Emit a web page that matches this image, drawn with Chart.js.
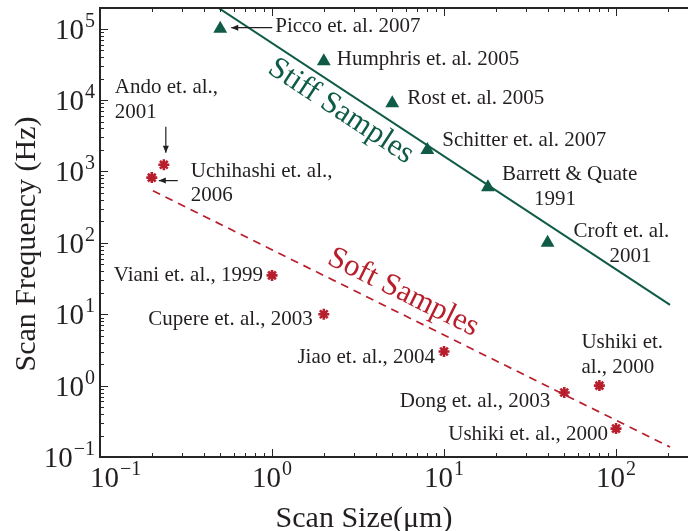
<!DOCTYPE html>
<html lang="en">
<head>
<meta charset="UTF-8">
<title>Scan Frequency vs Scan Size</title>
<script src="https://cdn.jsdelivr.net/npm/chart.js"></script>
<style>
  body { margin: 0; background: #fff; }
  #chart { display: block; }
</style>
</head>
<body>
<canvas id="chart" width="688" height="531"></canvas>
<script>
// stiff-sample instruments (filled triangles)
const stiffNames = ['Picco et. al. 2007', 'Humphris et. al. 2005', 'Rost et. al. 2005', 'Schitter et. al. 2007', 'Barrett & Quate\n1991', 'Croft et. al.\n2001'];
const stiffSize = [0.5, 2, 5, 8, 18, 40];
const stiffFreq = [1e5, 3.5e4, 9e3, 2e3, 600, 100];

// soft-sample instruments (asterisks)
const softNames = ['Ando et. al.,\n2001', 'Uchihashi et. al.,\n2006', 'Viani et. al., 1999', 'Cupere et. al., 2003', 'Jiao et. al., 2004', 'Dong et. al., 2003', 'Ushiki et.\nal., 2000', 'Ushiki et. al., 2000'];
const softSize = [0.235, 0.2, 1, 2, 10, 50, 80, 100];
const softFreq = [1240, 820, 35, 10, 3, 0.8, 1, 0.25];

// trend lines
const stiffTrendSize = [0.486, 206];
const stiffTrendFreq = [1.97e5, 13.5];
const softTrendSize = [0.203, 206];
const softTrendFreq = [536, 0.138];

// decade tick exponents
const xDecades = [-1, 0, 1, 2];
const yDecades = [-1, 0, 1, 2, 3, 4, 5];

const GREEN = '#0f5b47';
const RED = '#b81f2c';
const INK = '#231f20';
const SERIF = '"Liberation Serif", "Times New Roman", serif';

// where each name goes, in pixels from its marker: one [dx, dy] per text line
const stiffNotes = [
  { lines: [[55, -2]], arrow: [52, -1, 11, -1] },
  { lines: [[13, -2]] },
  { lines: [[15, -5]] },
  { lines: [[15, -9]] },
  { lines: [[14, -13], [46, 12]] },
  { lines: [[26, -11], [62, 14]] }
];
const softNotes = [
  { lines: [[-49, -77], [-49, -52]], arrow: [2, -38, 2, -12] },
  { lines: [[39, -6], [39, 18]], arrow: [26, 3, 7, 3] },
  { lines: [[-9, 0]], right: true },
  { lines: [[-11, 5]], right: true },
  { lines: [[-9, 6]], right: true },
  { lines: [[-14, 9]], right: true },
  { lines: [[-18, -43], [-18, -18]] },
  { lines: [[-8, 6]], right: true }
];

const toXY = (xs, ys) => xs.map((x, i) => ({ x: x, y: ys[i] }));

function drawArrow(ctx, x1, y1, x2, y2) {
  ctx.beginPath();
  ctx.moveTo(x1, y1);
  ctx.lineTo(x2, y2);
  ctx.stroke();
  const a = Math.atan2(y2 - y1, x2 - x1);
  ctx.beginPath();
  ctx.moveTo(x2, y2);
  ctx.lineTo(x2 - 7 * Math.cos(a) + 3 * Math.sin(a), y2 - 7 * Math.sin(a) - 3 * Math.cos(a));
  ctx.lineTo(x2 - 7 * Math.cos(a) - 3 * Math.sin(a), y2 - 7 * Math.sin(a) + 3 * Math.cos(a));
  ctx.closePath();
  ctx.fill();
}

// "10" with a raised exponent, x is the left edge
function drawPower(ctx, exp, x, baseY) {
  const e = exp < 0 ? '\u2212' + Math.abs(exp) : String(exp);
  ctx.textAlign = 'left';
  ctx.textBaseline = 'alphabetic';
  ctx.font = '29px ' + SERIF;
  ctx.fillText('10', x, baseY);
  const w = ctx.measureText('10').width;
  ctx.font = '20px ' + SERIF;
  ctx.fillText(e, x + w + 1, baseY - 12);
}
function powerWidth(ctx, exp) {
  const e = exp < 0 ? '\u2212' + Math.abs(exp) : String(exp);
  ctx.font = '29px ' + SERIF;
  const w = ctx.measureText('10').width;
  ctx.font = '20px ' + SERIF;
  return w + 1 + ctx.measureText(e).width;
}

function drawNotes(ctx, xs, ys, names, notes, sx, sy) {
  ctx.font = '21px ' + SERIF;
  ctx.fillStyle = INK;
  ctx.strokeStyle = INK;
  ctx.lineWidth = 1.2;
  ctx.textBaseline = 'middle';
  names.forEach((name, i) => {
    const px = sx.getPixelForValue(xs[i]);
    const py = sy.getPixelForValue(ys[i]);
    const note = notes[i];
    ctx.textAlign = note.right ? 'right' : 'left';
    name.split('\n').forEach((line, k) => {
      const off = note.lines[k];
      ctx.fillText(line, px + off[0], py + off[1]);
    });
    if (note.arrow) {
      const a = note.arrow;
      drawArrow(ctx, px + a[0], py + a[1], px + a[2], py + a[3]);
    }
  });
}

// caption laid along a trend line, t = fraction along it, shift = offset across it
function drawTrendLabel(ctx, text, color, xs, ys, t, shift, sx, sy) {
  const x1 = sx.getPixelForValue(xs[0]), y1 = sy.getPixelForValue(ys[0]);
  const x2 = sx.getPixelForValue(xs[1]), y2 = sy.getPixelForValue(ys[1]);
  const ang = Math.atan2(y2 - y1, x2 - x1);
  const cx = x1 + (x2 - x1) * t, cy = y1 + (y2 - y1) * t;
  ctx.save();
  ctx.translate(cx - Math.sin(ang) * shift, cy + Math.cos(ang) * shift);
  ctx.rotate(ang);
  ctx.font = '31px ' + SERIF;
  ctx.fillStyle = color;
  ctx.textAlign = 'center';
  ctx.textBaseline = 'middle';
  ctx.fillText(text, 0, 0);
  ctx.restore();
}

const frame = {
  id: 'frame',
  afterDatasetsDraw(chart) {
    const ctx = chart.ctx;
    const area = chart.chartArea;
    const sx = chart.scales.x, sy = chart.scales.y;
    ctx.save();

    // axis box (left, bottom, top)
    ctx.strokeStyle = '#262626';
    ctx.lineWidth = 2;
    ctx.beginPath();
    ctx.moveTo(area.right, area.top);
    ctx.lineTo(area.left, area.top);
    ctx.lineTo(area.left, area.bottom);
    ctx.lineTo(area.right, area.bottom);
    ctx.stroke();

    // inward ticks, decades long and the 2..9 multiples short
    ctx.lineWidth = 1;
    ctx.beginPath();
    xDecades.forEach(d => {
      for (let m = 1; m <= 9; m++) {
        const v = m * Math.pow(10, d);
        if (v < sx.min || v > sx.max) continue;
        const x = Math.round(sx.getPixelForValue(v)) + 0.5;
        const len = m === 1 ? 8 : 4;
        ctx.moveTo(x, area.bottom); ctx.lineTo(x, area.bottom - len);
        ctx.moveTo(x, area.top); ctx.lineTo(x, area.top + len);
      }
    });
    yDecades.forEach(d => {
      for (let m = 1; m <= 9; m++) {
        const v = m * Math.pow(10, d);
        if (v < sy.min || v > sy.max) continue;
        const y = Math.round(sy.getPixelForValue(v)) + 0.5;
        const len = m === 1 ? 8 : 4;
        ctx.moveTo(area.left, y); ctx.lineTo(area.left + len, y);
      }
    });
    ctx.stroke();

    // tick labels
    ctx.fillStyle = INK;
    yDecades.forEach(d => {
      const y = sy.getPixelForValue(Math.pow(10, d));
      drawPower(ctx, d, area.left - 5 - powerWidth(ctx, d), y + 10);
    });
    xDecades.forEach(d => {
      const x = sx.getPixelForValue(Math.pow(10, d));
      const w = powerWidth(ctx, d);
      drawPower(ctx, d, Math.max(x - w / 2, area.left - 10), area.bottom + 30);
    });

    // axis titles
    ctx.font = '30px ' + SERIF;
    ctx.textAlign = 'center';
    ctx.textBaseline = 'alphabetic';
    ctx.fillText('Scan Size(\u03bcm)', 364, 527);
    ctx.save();
    ctx.translate(35, 244);
    ctx.rotate(-Math.PI / 2);
    ctx.fillText('Scan Frequency (Hz)', 0, 0);
    ctx.restore();

    // names and pointers
    drawNotes(ctx, stiffSize, stiffFreq, stiffNames, stiffNotes, sx, sy);
    drawNotes(ctx, softSize, softFreq, softNames, softNotes, sx, sy);

    // trend captions
    drawTrendLabel(ctx, 'Stiff Samples', GREEN, stiffTrendSize, stiffTrendFreq, 0.295, 19, sx, sy);
    drawTrendLabel(ctx, 'Soft Samples', RED, softTrendSize, softTrendFreq, 0.467, -20, sx, sy);

    ctx.restore();
  }
};

new Chart(document.getElementById('chart'), {
  type: 'scatter',
  data: {
    datasets: [
      {
        label: 'Stiff trend', type: 'line',
        data: toXY(stiffTrendSize, stiffTrendFreq),
        borderColor: GREEN, borderWidth: 2, pointRadius: 0, fill: false
      },
      {
        label: 'Soft trend', type: 'line',
        data: toXY(softTrendSize, softTrendFreq),
        borderColor: RED, borderWidth: 1.7, borderDash: [8, 6], pointRadius: 0, fill: false
      },
      {
        label: 'Stiff Samples',
        data: toXY(stiffSize, stiffFreq),
        pointStyle: 'triangle', pointRadius: 8,
        backgroundColor: GREEN, borderColor: GREEN, borderWidth: 0
      },
      {
        label: 'Soft Samples',
        data: toXY(softSize, softFreq),
        pointStyle: 'star', pointRadius: 5.5,
        backgroundColor: RED, borderColor: RED, borderWidth: 2.6
      }
    ]
  },
  options: {
    responsive: false,
    animation: false,
    layout: { autoPadding: false, padding: { left: 100, top: 8, right: 0, bottom: 74 } },
    scales: {
      x: { type: 'logarithmic', min: 0.1, max: 262, display: false },
      y: { type: 'logarithmic', min: 0.1, max: 1.95e5, display: false }
    },
    plugins: { legend: { display: false }, tooltip: { enabled: false } }
  },
  plugins: [frame]
});
</script>
</body>
</html>
